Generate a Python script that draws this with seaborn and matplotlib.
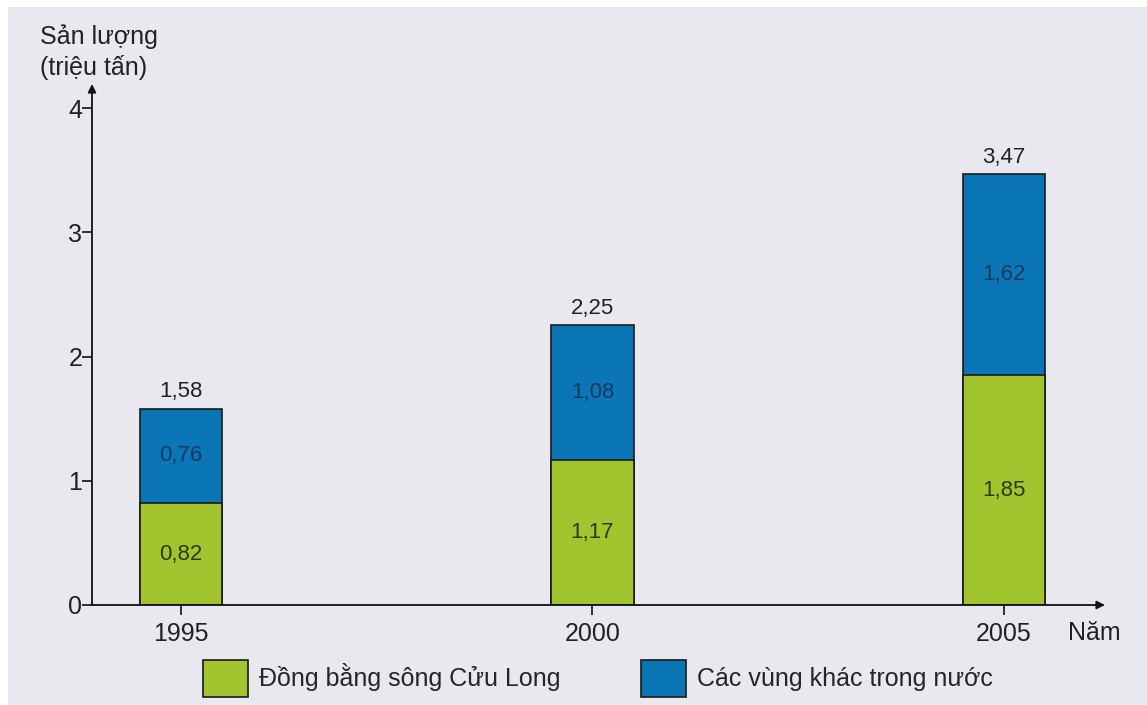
import matplotlib
matplotlib.use("Agg")
import matplotlib.pyplot as plt
from matplotlib.patches import Patch, Rectangle
import seaborn as sns
import pandas as pd

# --- data ---
years = [1995, 2000, 2005]
dbscl = [0.82, 1.17, 1.85]          # Đồng bằng sông Cửu Long
other = [0.76, 1.08, 1.62]          # Các vùng khác trong nước
totals = [1.58, 2.25, 3.47]
y_ticks = [0, 1, 2, 3, 4]

GREEN = "#a2c42e"
BLUE = "#0b76b6"
BG = "#e8e8ee"
FONT = "Liberation Sans"

df = pd.DataFrame({"year": years, "dbscl": dbscl, "other": other, "total": totals})

sns.set_style("white")
plt.rcParams["font.family"] = [FONT, "DejaVu Sans"]

fig = plt.figure(figsize=(11.47, 7.05), dpi=100, facecolor="white")
# lavender panel with thin white strip on top/left
fig.patches.append(Rectangle((8 / 1147, 0), 1, 1 - 7 / 705, transform=fig.transFigure,
                             facecolor=BG, edgecolor="none", zorder=-10))

W, H = 1147, 705
x0, y0 = 92, 605          # axis origin in px
ax = fig.add_axes([x0 / W, (H - y0) / H, (1105 - x0) / W, (y0 - 84) / H])
ax.set_zorder(5)
ax.patch.set_alpha(0)

px_per_unit = (605 - 108) / 4.0
px_per_year = (1004 - 181) / 10.0
xlim = (1995 - (181 - x0) / px_per_year, 2005 + (1105 - 1004) / px_per_year)
ylim = (0, (y0 - 84) / px_per_unit)

# stacked bars: totals in blue, green on top of lower part
sns.barplot(data=df, x="year", y="total", native_scale=True, width=0.2,
            color=BLUE, saturation=1, edgecolor="#1a1a1a", linewidth=1.2, ax=ax)
sns.barplot(data=df, x="year", y="dbscl", native_scale=True, width=0.2,
            color=GREEN, saturation=1, edgecolor="#1a1a1a", linewidth=1.2, ax=ax)
ax.set_xlim(*xlim)
ax.set_ylim(*ylim)

for yr, g, o, t in zip(years, dbscl, other, totals):
    ax.text(yr, t + 0.05, f"{t:.2f}".replace(".", ","), ha="center", va="bottom",
            fontsize=16, color="#222222")
    ax.text(yr, g / 2, f"{g:.2f}".replace(".", ","), ha="center", va="center",
            fontsize=16, color="#2c3a10")
    ax.text(yr, g + o / 2, f"{o:.2f}".replace(".", ","), ha="center", va="center",
            fontsize=16, color="#123a5e")

# axes look: only arrows for x and y
for s in ax.spines.values():
    s.set_visible(False)
ax.annotate("", xy=(0, 1), xytext=(0, 0), xycoords="axes fraction",
            arrowprops=dict(arrowstyle="-|>", color="#111111", lw=1.3, mutation_scale=12,
                            shrinkA=0, shrinkB=0))
ax.annotate("", xy=(1, 0), xytext=(0, 0), xycoords="axes fraction",
            arrowprops=dict(arrowstyle="-|>", color="#111111", lw=1.3, mutation_scale=12,
                            shrinkA=0, shrinkB=0))

ax.set_yticks(y_ticks)
ax.set_yticklabels([str(v) for v in y_ticks])
ax.set_xticks(years)
ax.set_xticklabels([str(v) for v in years])
ax.tick_params(axis="y", direction="out", length=7, width=1.2, color="#111111",
               labelsize=18, pad=0, left=True, labelcolor="#222222")
ax.tick_params(axis="x", direction="out", length=7, width=1.2, color="#111111",
               labelsize=18, pad=5, bottom=True, labelcolor="#222222")
ax.set_xlabel("")
ax.set_ylabel("")

fig.text(40 / W, 1 - 52 / H, "Sản lượng\n(triệu tấn)", ha="left", va="center",
         fontsize=18, linespacing=1.3, color="#222222")
fig.text(1068 / W, 1 - 633 / H, "Năm", ha="left", va="center", fontsize=18, color="#222222")

handles = [Patch(facecolor=GREEN, edgecolor="#1a1a1a", linewidth=1.2),
           Patch(facecolor=BLUE, edgecolor="#1a1a1a", linewidth=1.2)]
fig.legend(handles, ["Đồng bằng sông Cửu Long", "Các vùng khác trong nước"],
           loc="center", bbox_to_anchor=(598 / W, 1 - 678 / H), ncol=2, frameon=False,
           fontsize=18, handlelength=1.8, handleheight=1.9, handletextpad=0.45,
           columnspacing=3.2, borderpad=0)

fig.savefig("out.png", dpi=100, facecolor=fig.get_facecolor())
